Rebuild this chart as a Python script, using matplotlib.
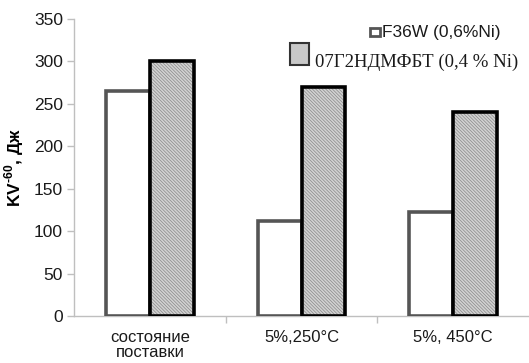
import matplotlib
matplotlib.use("Agg")
import matplotlib.pyplot as plt
from matplotlib.patches import Rectangle
import numpy as np

categories = ["состояние\nпоставки", "5%,250°C", "5%, 450°C"]
f36w = [265, 112, 123]
steel_07g2 = [300, 270, 240]
yticks = [0, 50, 100, 150, 200, 250, 300, 350]
name_f36w = "F36W (0,6%Ni)"
name_07g2 = "07Г2НДМФБТ (0,4 % Ni)"

plt.rcParams["font.family"] = ["Liberation Sans", "DejaVu Sans"]
plt.rcParams["mathtext.fontset"] = "custom"
plt.rcParams["mathtext.rm"] = "Liberation Sans:bold"
plt.rcParams["mathtext.bf"] = "Liberation Sans:bold"
plt.rcParams["hatch.linewidth"] = 0.5

W, H = 529, 363
fig = plt.figure(figsize=(W / 100, H / 100), dpi=100)
ax = fig.add_axes([74 / W, 47 / H, 455 / W, 297 / H])

x = np.arange(len(categories))
bw = 0.29

# white bars
ax.bar(x - bw / 2, f36w, bw, facecolor="white", edgecolor="#555555", linewidth=2.6, zorder=3)
# hatched bars: fill + hatch first, then black outline on top
ax.bar(x + bw / 2, steel_07g2, bw, facecolor="#d2d2d2", edgecolor="#888888",
       hatch="\\" * 10, linewidth=0, zorder=3)
ax.bar(x + bw / 2, steel_07g2, bw, facecolor="none", edgecolor="black", linewidth=2.6, zorder=4)

ax.set_xlim(-0.5, len(categories) - 0.5)
ax.set_ylim(0, 350)
ax.set_yticks(yticks)
ax.tick_params(axis="y", labelsize=12.5, length=5, width=1, color="#bfbfbf", pad=3, labelcolor="#1a1a1a")

ax.set_xticks(x)
ax.set_xticklabels(categories, fontsize=12, color="#1a1a1a", linespacing=1.05)
ax.tick_params(axis="x", length=0, pad=10)
ax.set_xticks(x[:-1] + 0.5, minor=True)
ax.tick_params(axis="x", which="minor", length=5, width=1, color="#bfbfbf", direction="out")

for s in ["top", "right"]:
    ax.spines[s].set_visible(False)
for s in ["left", "bottom"]:
    ax.spines[s].set_color("#bfbfbf")
    ax.spines[s].set_linewidth(1)

ax.set_ylabel(r"KV$^{\text{-60}}$, Дж", fontsize=12.5, fontweight="bold")
ax.yaxis.set_label_coords(-0.105, 0.5)

# legend entries
fig.add_artist(Rectangle((370 / W, 1 - 36 / H), 10 / W, 8 / H, transform=fig.transFigure,
                         facecolor="white", edgecolor="#555555", linewidth=2))
fig.text(382 / W, 1 - 36.5 / H, name_f36w, fontsize=12.5, color="#1a1a1a", va="baseline")
fig.add_artist(Rectangle((290 / W, 1 - 65 / H), 19 / W, 22 / H, transform=fig.transFigure,
                         facecolor="#c8c8c8", edgecolor="#333333", linewidth=1.5))
fig.text(315 / W, 1 - 66.5 / H, name_07g2, fontsize=13.5, family="Liberation Serif",
         color="#1a1a1a", va="baseline")

fig.savefig("out.png", dpi=100)
